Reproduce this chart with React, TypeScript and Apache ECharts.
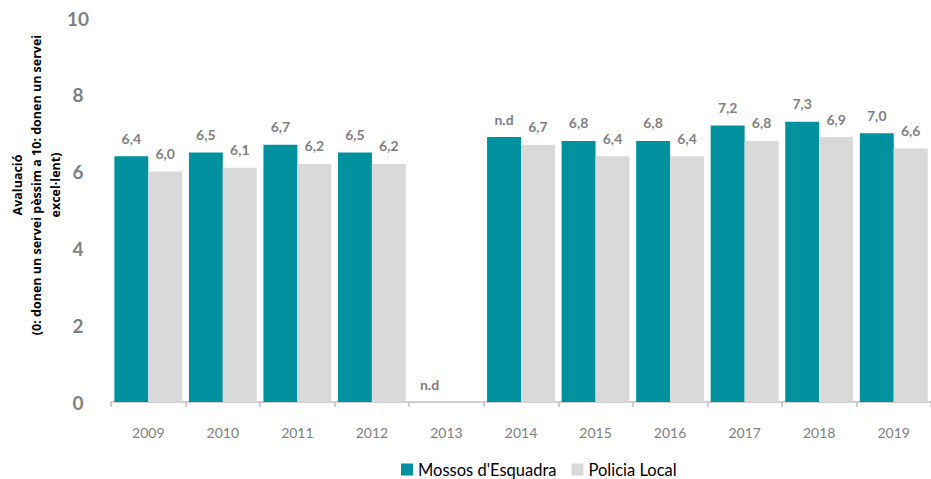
import React, { useEffect, useRef } from "react";
import * as echarts from "echarts";

const categories = ["2009", "2010", "2011", "2012", "2013", "2014", "2015", "2016", "2017", "2018", "2019"];
const mossosValues = [6.4, 6.5, 6.7, 6.5, 0, 6.9, 6.8, 6.8, 7.2, 7.3, 7.0];
const mossosLabels = [null, null, null, null, "n.d", "n.d", null, null, null, null, null];
const policiaValues: (number | null)[] = [6.0, 6.1, 6.2, 6.2, null, 6.7, 6.4, 6.4, 6.8, 6.9, 6.6];
const yTicks = [0, 2, 4, 6, 8, 10];
const seriesNames = ["Mossos d'Esquadra", "Policia Local"];
const yAxisTitle = "Avaluació\n(0: donen un servei pèssim a 10: donen un servei\nexcel·lent)";

const TEAL = "#00909E";
const GREY = "#D9D9D9";
const FONT = "Lato, 'Open Sans', sans-serif";

const fmt = (v: number) => v.toFixed(1).replace(".", ",");

export default function App() {
  const ref = useRef<HTMLDivElement>(null);
  useEffect(() => {
    if (!ref.current) return;
    const chart = echarts.init(ref.current, undefined, { renderer: "svg" });
    const labelStyle = {
      show: true,
      position: "top" as const,
      distance: 11,
      color: "#808080",
      fontWeight: "bold" as const,
      fontSize: 14,
      fontFamily: FONT,
    };
    chart.setOption({
      animation: false,
      textStyle: { fontFamily: FONT },
      grid: { left: 111, right: -5, top: 18, bottom: 77, containLabel: false },
      legend: {
        top: 461,
        left: 401,
        padding: 0,
        itemWidth: 12,
        itemHeight: 12,
        itemGap: 15,
        icon: "rect",
        textStyle: { color: "#000", fontSize: 16.5, fontFamily: FONT },
        data: seriesNames,
      },
      xAxis: {
        type: "category",
        data: categories,
        axisLine: { lineStyle: { color: "#BFBFBF", width: 1.5 } },
        axisTick: { show: true, length: 5, lineStyle: { color: "#BFBFBF", width: 1.5 } },
        axisLabel: { color: "#808080", fontSize: 14, margin: 23, fontFamily: FONT },
      },
      yAxis: {
        type: "value",
        min: yTicks[0],
        max: yTicks[yTicks.length - 1],
        interval: 2,
        splitLine: { show: false },
        axisLine: { show: false },
        axisTick: { show: false },
        axisLabel: {
          color: "#808080",
          fontSize: 19,
          fontWeight: "bold",
          margin: 33,
          align: "center",
          fontFamily: FONT,
        },
      },
      graphic: [
        {
          type: "text",
          x: 36,
          y: 185,
          rotation: Math.PI / 2,
          style: {
            text: yAxisTitle,
            align: "center",
            verticalAlign: "middle",
            fontSize: 12.5,
            fontWeight: "bold",
            fill: "#000",
            lineHeight: 19,
            fontFamily: "'Open Sans', sans-serif",
          },
        },
      ],
      series: [
        {
          name: seriesNames[0],
          type: "bar",
          data: mossosValues,
          barGap: "0%",
          barCategoryGap: "9%",
          itemStyle: { color: TEAL },
          label: {
            ...labelStyle,
            formatter: (p: any) => mossosLabels[p.dataIndex] ?? fmt(p.value),
          },
        },
        {
          name: seriesNames[1],
          type: "bar",
          data: policiaValues,
          barGap: "0%",
          barCategoryGap: "9%",
          itemStyle: { color: GREY },
          label: {
            ...labelStyle,
            formatter: (p: any) => (p.value == null ? "" : fmt(p.value)),
          },
        },
      ],
    });
    return () => chart.dispose();
  }, []);
  return (
    <div
      ref={ref}
      style={{ position: "fixed", left: 0, top: 0, width: 931, height: 479, background: "#fff" }}
    />
  );
}
